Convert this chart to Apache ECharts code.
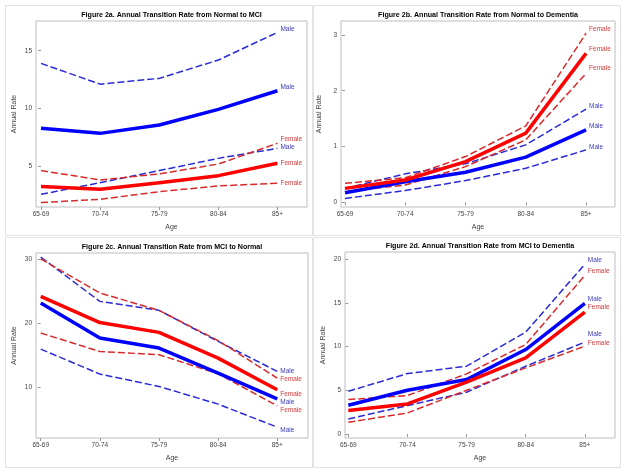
<!DOCTYPE html>
<html>
<head>
<meta charset="utf-8">
<script src="https://cdn.jsdelivr.net/npm/echarts@6/dist/echarts.min.js"></script>
<style>html,body{margin:0;padding:0;background:#fff}#c{width:626px;height:472px}</style>
</head>
<body>
<div id="c"></div>
<script>
// ---- data ----
const ages = ['65-69', '70-74', '75-79', '80-84', '85+'];
const titles = [
  'Figure 2a. Annual Transition Rate from Normal to MCI',
  'Figure 2b. Annual Transition Rate from Normal to Dementia',
  'Figure 2c. Annual Transition Rate from MCI to Normal',
  'Figure 2d. Annual Transition Rate from MCI to Dementia'
];
// Panel a: Normal -> MCI
const aMaleMid    = [8.27, 7.83, 8.55, 9.91, 11.53];
const aMaleLow    = [2.54, 3.55, 4.60, 5.66, 6.53];
const aMaleHigh   = [13.90, 12.10, 12.60, 14.19, 16.59];
const aFemaleMid  = [3.21, 2.98, 3.55, 4.16, 5.23];
const aFemaleLow  = [1.82, 2.11, 2.77, 3.27, 3.50];
const aFemaleHigh = [4.60, 3.79, 4.31, 5.17, 6.97];
const aTicks = [5, 10, 15];
// Panel b: Normal -> Dementia
const bMaleMid    = [0.17, 0.37, 0.54, 0.81, 1.30];
const bMaleLow    = [0.07, 0.21, 0.39, 0.61, 0.94];
const bMaleHigh   = [0.25, 0.51, 0.69, 1.03, 1.67];
const bFemaleMid  = [0.25, 0.40, 0.73, 1.24, 2.67];
const bFemaleLow  = [0.19, 0.31, 0.64, 1.12, 2.31];
const bFemaleHigh = [0.34, 0.44, 0.82, 1.37, 3.03];
const bTicks = [0, 1, 2, 3];
// Panel c: MCI -> Normal
const cMaleMid    = [23.14, 17.70, 16.13, 12.23, 8.23];
const cMaleLow    = [15.97, 12.08, 10.16, 7.40, 3.82];
const cMaleHigh   = [30.30, 23.40, 22.00, 17.17, 12.50];
const cFemaleMid  = [24.18, 20.10, 18.57, 14.57, 9.64];
const cFemaleLow  = [18.47, 15.60, 15.10, 12.13, 7.14];
const cFemaleHigh = [30.00, 24.70, 22.00, 17.30, 11.45];
const cTicks = [10, 20, 30];
// Panel d: MCI -> Dementia
const dMaleMid    = [3.29, 5.01, 6.23, 9.67, 14.95];
const dMaleLow    = [1.72, 3.25, 4.78, 7.76, 10.52];
const dMaleHigh   = [4.89, 6.92, 7.76, 11.66, 19.43];
const dFemaleMid  = [2.68, 3.44, 5.93, 8.72, 13.96];
const dFemaleLow  = [1.34, 2.41, 5.01, 7.57, 10.06];
const dFemaleHigh = [3.94, 4.40, 6.88, 10.25, 18.16];
const dTicks = [0, 5, 10, 15, 20];

// ---- layout / style ----
const FONT = 'Liberation Sans, Arial, sans-serif';
const grids = [
  {left: 36, top: 21, width: 271, height: 186, xmin: -0.085, xmax: 4.5, ymin: 1.44, ymax: 17.58, ticks: aTicks},
  {left: 341, top: 21, width: 274, height: 186, xmin: -0.066, xmax: 4.48, ymin: -0.084, ymax: 3.25, ticks: bTicks},
  {left: 36, top: 253, width: 272, height: 185, xmin: -0.08, xmax: 4.52, ymin: 2.13, ymax: 30.93, ticks: cTicks},
  {left: 345, top: 252, width: 270, height: 186, xmin: -0.056, xmax: 4.51, ymin: -0.46, ymax: 20.84, ticks: dTicks}
];
const panels = [
  [aMaleHigh, aMaleMid, aMaleLow, aFemaleHigh, aFemaleMid, aFemaleLow],
  [bMaleHigh, bMaleMid, bMaleLow, bFemaleHigh, bFemaleMid, bFemaleLow],
  [cMaleHigh, cMaleMid, cMaleLow, cFemaleHigh, cFemaleMid, cFemaleLow],
  [dMaleHigh, dMaleMid, dMaleLow, dFemaleHigh, dFemaleMid, dFemaleLow]
];
// label vertical offsets per panel (Mhigh, Mmid, Mlow, Fhigh, Fmid, Flow)
const labelDy = [
  [-3, -4, -1, -4, 0, 0],
  [-3, -4, -3, -4, -4, -5],
  [0, 3, 3, 1, 4, 4],
  [-4, -4, -8, -4, -5, -3]
];
const BLUE = '#0000ff', BLUE_D = '#2a2ad8', RED = '#ff0000', RED_D = '#d82a2a';
const MALE_TXT = '#3a3ab8', FEMALE_TXT = '#d03a3a';

const xAxes = [], yAxes = [], gridOpts = [], series = [], graphics = [];
grids.forEach((g, i) => {
  gridOpts.push({left: g.left, top: g.top, width: g.width, height: g.height,
    show: true, borderColor: '#bdbdbd', borderWidth: 1, backgroundColor: 'transparent'});
  xAxes.push({type: 'value', gridIndex: i, min: g.xmin, max: g.xmax,
    axisLine: {show: false}, splitLine: {show: false},
    axisTick: {show: true, customValues: [0, 1, 2, 3, 4], length: 3, lineStyle: {color: '#999'}},
    axisLabel: {customValues: [0, 1, 2, 3, 4], formatter: v => ages[Math.round(v)], fontSize: 6.5,
      color: '#444', margin: 4, fontFamily: FONT},
    name: 'Age', nameLocation: 'middle', nameGap: 17,
    nameTextStyle: {fontSize: 7, color: '#444', fontFamily: FONT}});
  yAxes.push({type: 'value', gridIndex: i, min: g.ymin, max: g.ymax,
    axisLine: {show: false}, splitLine: {show: false},
    axisTick: {show: true, customValues: g.ticks, length: 3, lineStyle: {color: '#999'}},
    axisLabel: {customValues: g.ticks, fontSize: 6.5, color: '#444', margin: 4, fontFamily: FONT},
    name: 'Annual Rate', nameLocation: 'middle', nameGap: 18,
    nameTextStyle: {fontSize: 7, color: '#444', fontFamily: FONT}});
  const sets = panels[i];
  const specs = [
    {name: 'Male', color: BLUE_D, w: 1.5, dash: true, tc: MALE_TXT},
    {name: 'Male', color: BLUE, w: 3.5, dash: false, tc: MALE_TXT},
    {name: 'Male', color: BLUE_D, w: 1.5, dash: true, tc: MALE_TXT},
    {name: 'Female', color: RED_D, w: 1.5, dash: true, tc: FEMALE_TXT},
    {name: 'Female', color: RED, w: 3.5, dash: false, tc: FEMALE_TXT},
    {name: 'Female', color: RED_D, w: 1.5, dash: true, tc: FEMALE_TXT}
  ];
  specs.forEach((s, k) => {
    series.push({
      type: 'line', xAxisIndex: i, yAxisIndex: i, name: s.name,
      data: sets[k].map((v, j) => [j, v]),
      showSymbol: false, symbol: 'none', silent: true,
      z: s.dash ? 2 : 3,
      lineStyle: {color: s.color, width: s.w, type: s.dash ? [7, 3] : 'solid'},
      endLabel: {show: true, formatter: s.name, color: s.tc, fontSize: 6.5, fontFamily: FONT,
        distance: 3, offset: [0, labelDy[i][k]]}
    });
  });
  graphics.push({type: 'text', x: g.left + g.width / 2, y: g.top - 6,
    style: {text: titles[i], fontSize: 7.1, fontWeight: 'bold', fill: '#000', fontFamily: FONT,
      align: 'center', verticalAlign: 'middle'}});
});
// panel borders
[[5, 5, 307, 230], [313, 5, 307, 230], [5, 237, 307, 230], [313, 237, 307, 230]].forEach(r => {
  graphics.push({type: 'rect', shape: {x: r[0] + 0.5, y: r[1] + 0.5, width: r[2], height: r[3]},
    style: {fill: 'none', stroke: '#e2e2e2', lineWidth: 1}, silent: true, z: -1});
});

const chart = echarts.init(document.getElementById('c'), null, {renderer: 'canvas'});
chart.setOption({
  animation: false,
  backgroundColor: '#fff',
  grid: gridOpts, xAxis: xAxes, yAxis: yAxes, series: series,
  graphic: graphics
});
</script>
</body>
</html>
